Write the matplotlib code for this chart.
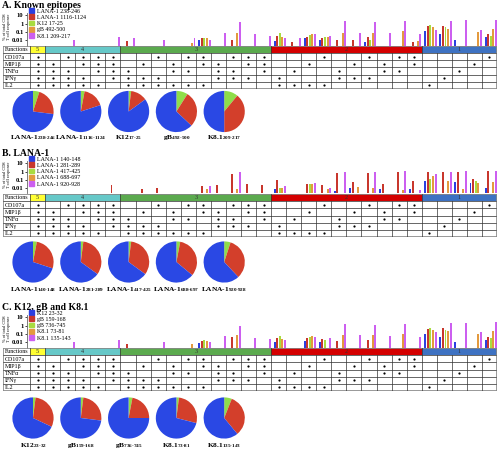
import numpy as np
import matplotlib
matplotlib.use("Agg")
import matplotlib.pyplot as plt
from matplotlib.patches import Rectangle

plt.rcParams['font.family'] = ['Liberation Serif', 'DejaVu Serif']
plt.rcParams['mathtext.fontset'] = 'custom'
plt.rcParams['mathtext.rm'] = 'Liberation Serif'
plt.rcParams['mathtext.bf'] = 'Liberation Serif:bold'
plt.rcParams['mathtext.it'] = 'Liberation Serif:italic'

W, H = 498, 451

# ---- table of function combinations (CD107a, MIP1b, TNFa, IFNg, IL2) ----
functions = ['CD107a', 'MIP1β', 'TNFα', 'IFNγ', 'IL2']
combos = ['11111',
          '01111', '10111', '11011', '11101', '11110',
          '00111', '01011', '10011', '01101', '10101', '11001', '01110', '10110', '11010', '11100',
          '00011', '00101', '01001', '10001', '00110', '01010', '10010', '01100', '10100', '11000',
          '00001', '00010', '00100', '01000', '10000']
group_names = ['5', '4', '3', '2', '1']
group_sizes = [1, 5, 10, 10, 5]
group_colors = ['#FFFF33', '#66C8C8', '#5BAA4E', '#D40000', '#3E72C2']

# ---- A. known epitopes (% of total CD8 T cell response, per column) ----
a_labels = ['LANA-1 238-246', 'LANA-1 1116-1124', 'K12 17-25', 'gB 492-500', 'K8.1 209-217']
a_lana238 = [0,0,0,0,0, 0,0,0,0,0, 0,.008,0,0,0, 0,.007,0,.014,.009, 0,0,.0055,0,0, 0,.11,.058,.009,0, .022]
a_lana1116 = [0,0,0,0,0, 0,.006,0,0,0, 0,.015,0,.009,0, 0,.03,.0045,.022,.017, .01,.01,.02,0,0, .0055,.46,.46,0,0, .044]
a_k12 = [0,0,0,0,0, 0,0,0,0,0, 0,.017,0,0,0, 0,.077,0,.036,.02, 0,0,.009,0,0, 0,.75,.37,0,0, .03]
a_gb = [0,0,0,0,0, 0,0,0,0,0, .004,.016,0,.077,0, 0,.022,0,.047,.02, .077,0,.077,0,.11, .007,.38,.23,0,.1, .24]
a_k81 = [0,0,.01,0,0, .022,.017,0,.01,0, .014,.01,.069,1.6,.044, .027,.017,.014,.047,.03, 1.9,.077,1.6,.07,1.9, .058,.18,2.1,2.5,.18, 3.0]
a_pie_names = ['LANA-1', 'LANA-1', 'K12', 'gB', 'K8.1']
a_pie_subs = ['238-246', '1116-1124', '17-25', '492-500', '209-217']
a_pies = [[.05, .22, .73], [.03, .17, .80], [.02, .13, .85], [.09, .28, .63], [.11, .39, .50]]

# ---- B. LANA-1 ----
b_labels = ['LANA-1 140-148', 'LANA-1 281-289', 'LANA-1 417-425', 'LANA-1 688-697', 'LANA-1 920-928']
b_140 = [0,0,0,0,0, 0,0,0,0,0, 0,0,0,0,0, 0,.006,0,0,0, .004,.01,0,.006,0, .006,.07,0,.05,.04, .01]
b_281 = [0,0,0,0,0, .02,0,.006,.01,0, 0,.016,.02,.5,.03, .02,.09,0,.03,.02, .67,.05,.6,.03,1.0, .07,.8,1.0,1.0,.12, 1.3]
b_417 = [0,0,0,0,0, 0,0,0,0,0, 0,0,0,0,0, 0,.01,0,.025,0, 0,0,0,0,0, 0,.12,0,0,.06, 0]
b_688 = [0,0,0,0,0, 0,0,0,0,0, 0,.006,0,.006,0, 0,.01,0,.03,.006, 0,.012,.008,0,.005, 0,.3,.07,.007,.04, .05]
b_920 = [0,0,0,0,0, 0,0,0,0,0, 0,.015,0,.8,0, 0,.016,0,.04,.01, .8,0,.8,0,1.3, .005,.5,.8,1.3,0, 1.3]
b_pie_names = ['LANA-1'] * 5
b_pie_subs = ['140-148', '281-289', '417-425', '688-697', '920-928']
b_pies = [[.03, .27, .70], [.02, .33, .65], [.02, .33, .65], [.03, .33, .64], [.05, .33, .62]]

# ---- C. K12, gB and K8.1 ----
c_labels = ['K12 23-32', 'gB 159-168', 'gB 736-745', 'K8.1 73-81', 'K8.1 135-143']
c_k12 = [0,0,0,0,0, 0,0,0,0,0, 0,.006,0,0,0, 0,.01,0,.012,.008, 0,0,0,0,0, 0,.09,.04,.008,0, .015]
c_gb159 = [0,0,0,0,0, 0,.005,0,0,0, 0,.012,0,.04,0, 0,.025,0,.03,.02, .012,0,.015,0,0, 0,.35,.5,0,0, .04]
c_gb736 = [0,0,0,0,0, 0,0,0,0,0, 0,.015,0,0,0, 0,.05,0,.04,.015, 0,0,0,0,0, 0,.5,.3,0,0, .03]
c_k8173 = [0,0,0,0,0, 0,0,0,0,0, .005,.012,0,.06,0, 0,.02,0,.05,0, .06,0,.06,0,.09, 0,.3,.2,0,.08, .2]
c_k81135 = [0,0,.008,0,0, .015,0,0,.008,0, 0,.01,.05,1.0,.03, .02,.015,0,.04,.03, 1.5,.06,1.3,.05,1.6, .04,.15,1.8,2.0,.15, 2.5]
c_pie_names = ['K12', 'gB', 'gB', 'K8.1', 'K8.1']
c_pie_subs = ['23-32', '159-168', '736-745', '73-81', '135-143']
c_pies = [[.02, .30, .68], [.02, .25, .73], [.03, .22, .75], [.02, .27, .71], [.06, .33, .61]]

bar_colors = ['#2B3FE0', '#C8372D', '#A8DC40', '#E39A3E', '#CC5FF0']
pie_colors = ['#8FDD4A', '#D33F2B', '#2A48E4']

HDR = 1.8          # width of the "Functions" column in column units
YLO, YHI = 10**-2.72, 10**1.3


def px(l, t, w, h):
    return [l / W, 1 - (t + h) / H, w / W, h / H]


def draw_panel(fig, title, top, series, labels, pie_names, pie_subs, pies, pie_top, lab_y):
    fig.text(2 / W, 1 - (top + 5) / H, title, fontsize=7, fontweight='bold', va='center')

    # bars
    ax = fig.add_axes(px(27, top + 13, 470, 32.5))
    ax.set_yscale('log')
    x = np.arange(31) + 0.58
    for k, vals in enumerate(series):
        v = np.array(vals, dtype=float)
        m = v > 0
        ax.bar(x[m] + (k - 2) * 0.17, v[m] - YLO, bottom=YLO, width=0.13,
               color=bar_colors[k], linewidth=0)
    ax.set_xlim(-0.2, 31)
    ax.set_ylim(YLO, YHI)
    ax.set_yticks([0.01, 0.1, 1, 10])
    ax.set_yticklabels(['0.01', '0.1', '1', '10'], fontsize=4.8, fontweight='bold')
    ax.yaxis.set_minor_locator(matplotlib.ticker.NullLocator())
    ax.tick_params(axis='y', length=1.5, width=0.5, pad=1)
    ax.set_xticks([])
    for s in ['top', 'right', 'bottom']:
        ax.spines[s].set_visible(False)
    ax.spines['left'].set_color('#666666')
    ax.spines['left'].set_linewidth(0.6)
    ax.patch.set_alpha(0)
    fig.text(7 / W, 1 - (top + 27) / H, '% of total CD8\nT cell response', rotation=90,
             fontsize=3.2, ha='center', va='center', linespacing=0.95)
    handles = [Rectangle((0, 0), 1, 1, color=c) for c in bar_colors]
    fig.legend(handles, labels, loc='upper left', bbox_to_anchor=(29 / W, 1 - (top + 8) / H),
               frameon=False, fontsize=4.3, handlelength=0.9, handleheight=0.9,
               handletextpad=0.4, labelspacing=0.12, borderpad=0, borderaxespad=0)

    # table
    tx = fig.add_axes(px(3, top + 46, 494, 43))
    tx.set_xlim(-HDR, 31)
    tx.set_ylim(6, 0)
    tx.axis('off')
    start = 0
    for name, size, col in zip(group_names, group_sizes, group_colors):
        tx.add_patch(Rectangle((start, 0), size, 1, facecolor=col, edgecolor='none'))
        tx.text(start + size / 2, 0.55, name, fontsize=4.5, ha='center', va='center', color='#333333')
        start += size
    tx.text(-HDR + 0.1, 0.55, 'Functions', fontsize=4.3, va='center', ha='left')
    for r, f in enumerate(functions):
        tx.text(-HDR + 0.1, r + 1.55, f, fontsize=4.3, va='center', ha='left')
    for c, code in enumerate(combos):
        ys = [r + 1.5 for r, ch in enumerate(code) if ch == '1']
        tx.plot([c + 0.5] * len(ys), ys, 'o', ms=1.6, color='black', mec='none')
    for y in range(1, 6):
        tx.plot([-HDR, 31], [y, y], color='#666666', lw=0.7)
    for xv in range(0, 32):
        tx.plot([xv, xv], [1, 6], color='#333333', lw=0.5)
    for xv in np.cumsum([0] + group_sizes):
        tx.plot([xv, xv], [0, 1], color='#333333', lw=0.5)
    tx.add_patch(Rectangle((-HDR, 0), 31 + HDR, 6, facecolor='none', edgecolor='#888888', lw=1.2))

    # pies
    for i, (fr, name, sub) in enumerate(zip(pies, pie_names, pie_subs)):
        cx = 33 + 47.8 * i
        pa = fig.add_axes(px(cx - 22, pie_top, 44, 42))
        pa.pie(fr, colors=pie_colors, startangle=90, counterclock=False,
               wedgeprops=dict(linewidth=0))
        pa.set_xlim(-1.02, 1.02)
        pa.set_ylim(-1.02, 1.02)
        fig.text(cx / W, 1 - lab_y / H, name + r'$_{\mathbf{' + sub.replace('-', r'}\text{-}\mathbf{') + '}}$',
                 fontsize=5.3, fontweight='bold', ha='center', va='center')


fig = plt.figure(figsize=(W / 100, H / 100), dpi=100)
draw_panel(fig, 'A. Known epitopes', 0, [a_lana238, a_lana1116, a_k12, a_gb, a_k81],
           a_labels, a_pie_names, a_pie_subs, a_pies, 90.5, 137.5)
draw_panel(fig, 'B. LANA-1', 148, [b_140, b_281, b_417, b_688, b_920],
           b_labels, b_pie_names, b_pie_subs, b_pies, 241, 290)
draw_panel(fig, 'C. K12, gB and K8.1', 302, [c_k12, c_gb159, c_gb736, c_k8173, c_k81135],
           c_labels, c_pie_names, c_pie_subs, c_pies, 397, 446)
fig.savefig('out.png', dpi=100)
